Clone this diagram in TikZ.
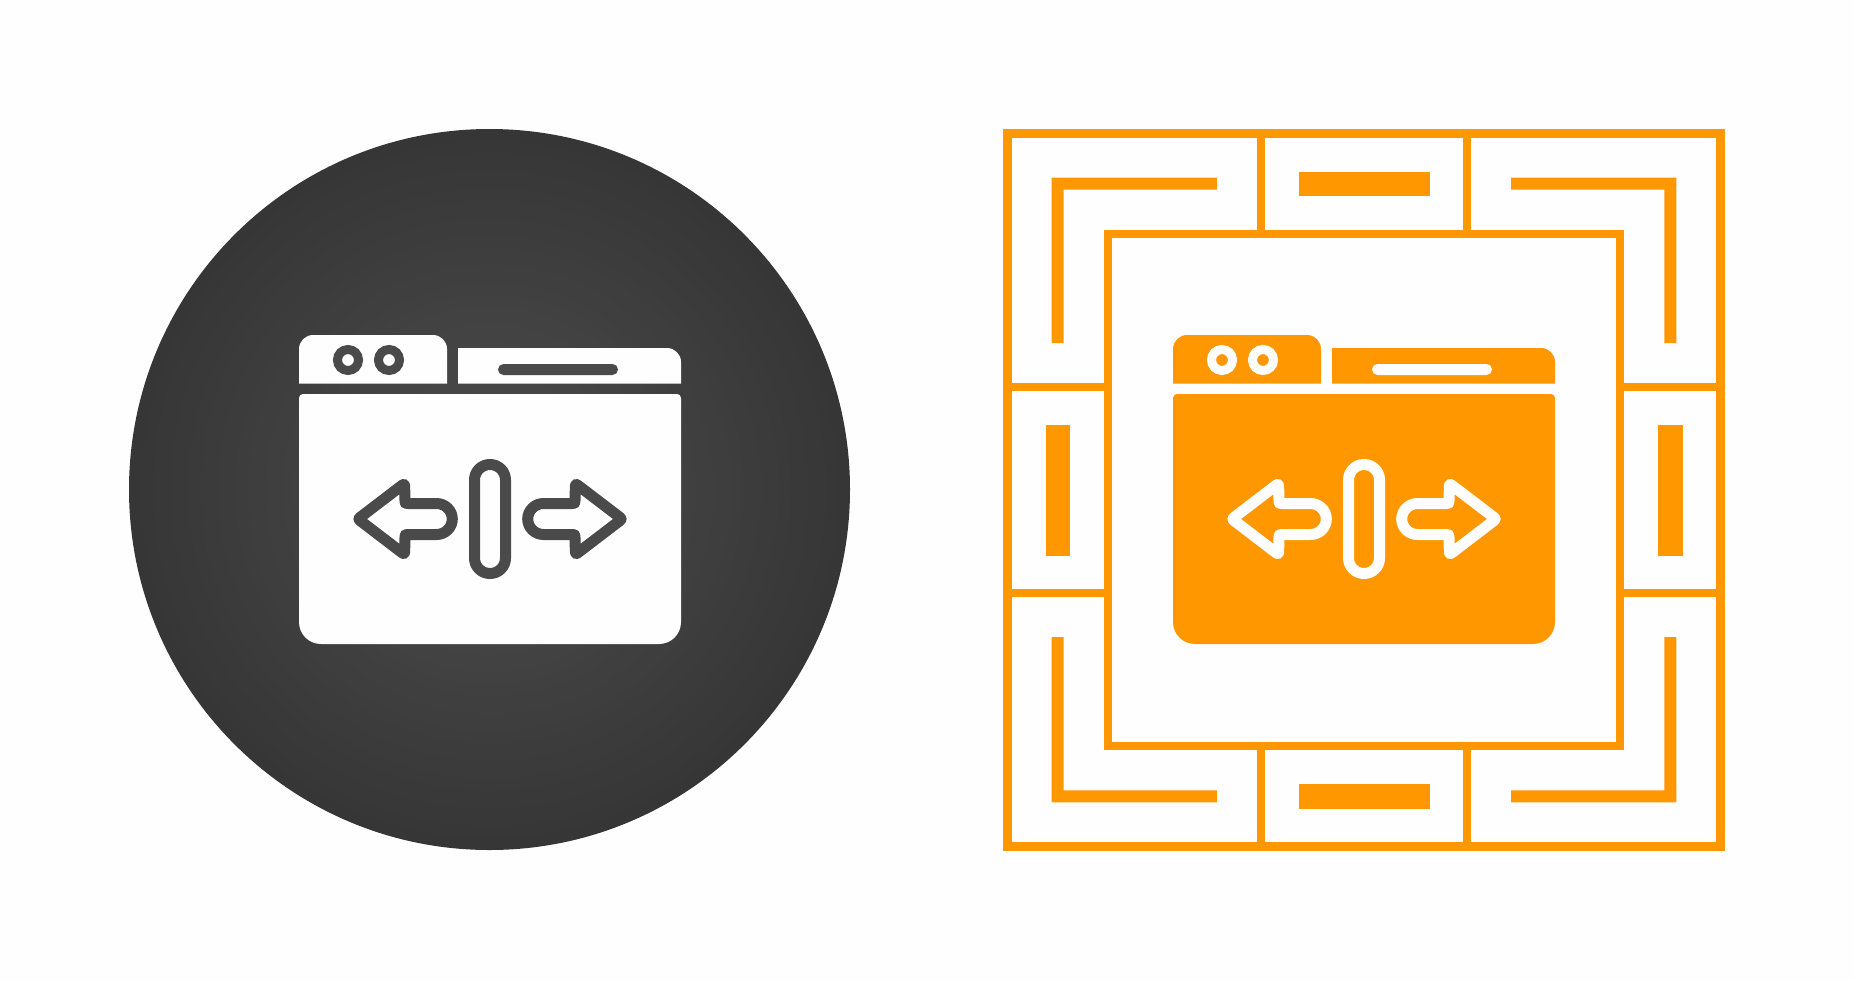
\documentclass[tikz,border=0pt]{standalone}
\definecolor{paper}{HTML}{FEFEFE}
\definecolor{discmid}{HTML}{4D4D4D}
\definecolor{discrim}{HTML}{363636}
\definecolor{ink}{HTML}{4A4A4A}
\definecolor{amber}{HTML}{FF9800}
\tikzset{
  framebar/.style={amber,line width=8.6pt,line join=miter},
  patch/.style={fill=amber,draw=none},
  linework/.style={line width=11pt,line join=round,line cap=round},
}
% #1 fill colour of the panels, #2 colour of the marks cut into them
\newcommand{\browsericon}[2]{%
  \fill[#1] (299,383.5) -- (299,349) .. controls (299,341.3) and (305.3,335) .. (313,335)
    -- (433,335) .. controls (440.7,335) and (447,341.3) .. (447,349) -- (447,383.5) -- cycle;
  \fill[#1] (458,383.5) -- (458,348) -- (667,348)
    .. controls (674.7,348) and (681,354.3) .. (681,362) -- (681,383.5) -- cycle;
  \fill[#1] (299,398) .. controls (299,395.8) and (300.8,394) .. (303,394) -- (677,394)
    .. controls (679.2,394) and (681,395.8) .. (681,398) -- (681,622)
    .. controls (681,634.2) and (671.2,644) .. (659,644) -- (321,644)
    .. controls (308.8,644) and (299,634.2) .. (299,622) -- cycle;
  \draw[#2,line width=9pt] (348,360) circle[radius=10.5pt];
  \draw[#2,line width=9pt] (389,360) circle[radius=10.5pt];
  \fill[#2,rounded corners=5.5pt] (498,364) rectangle (618,375);
  \draw[#2,line width=11pt,rounded corners=15.4pt] (474.5,464.5) rectangle (505.5,573.5);
  \foreach \mirror/\move in {1/0,-1/980}{
    \begin{scope}[xshift=\move pt,xscale=\mirror]
      \draw[#2,linework] (361.5,516.3) -- (400.5,486.5)
        .. controls (404.5,483.4) .. (404.7,488.5)
        -- (405,500.5) .. controls (405,503.5) .. (408,503.5) -- (436.5,503.5)
        .. controls (445.2,503.5) and (452.3,510.5) .. (452.3,519)
        .. controls (452.3,527.5) and (445.2,534.5) .. (436.5,534.5)
        -- (408,534.5) .. controls (405,534.5) .. (405,537.5) -- (404.7,549.5)
        .. controls (404.5,554.6) .. (400.5,551.5) -- (361.5,521.7)
        .. controls (358,519) .. (361.5,516.3) -- cycle;
    \end{scope}
  }
}
\begin{document}
\begin{tikzpicture}[x=1pt,y=-1pt]
  \fill[paper] (0,0) rectangle (1854,980);
  \useasboundingbox (0,0) rectangle (1854,980);
  % dark disc: concentric steps from the rim to the centre
  \foreach \k in {0,...,60}{
    \pgfmathsetmacro{\rad}{360.5*(1-\k/61)}
    \pgfmathsetmacro{\mixval}{100*\k/60}
    \fill[discmid!\mixval!discrim] (489.5,489.5) circle[radius=\rad pt];
  }
  \browsericon{paper}{ink}
  % amber frame
  \draw[framebar] (1007.5,133.5) rectangle (1720.5,846.5);
  \draw[framebar] (1108,234) rectangle (1620,746);
  \foreach \s in {0,206}{
    \draw[framebar,line cap=butt] (1261+\s,133.5) -- (1261+\s,234);
    \draw[framebar,line cap=butt] (1261+\s,746) -- (1261+\s,846.5);
    \draw[framebar,line cap=butt] (1007.5,387+\s) -- (1108,387+\s);
    \draw[framebar,line cap=butt] (1620,387+\s) -- (1720.5,387+\s);
  }
  % corner brackets
  \foreach \sx/\sy in {1/1,-1/1,1/-1,-1/-1}{
    \begin{scope}[shift={(1364pt,-490pt)},xscale=\sx,yscale=\sy]
      \fill[amber] (-312.3,-312.3) -- (-147,-312.3) -- (-147,-300.3) -- (-300.3,-300.3) -- (-300.3,-147) -- (-312.3,-147) -- cycle;
    \end{scope}
  }
  % side bars
  \fill[patch] (1298.5,171.5) rectangle (1429.5,196);
  \fill[patch] (1298.5,784) rectangle (1429.5,808.5);
  \fill[patch] (1045.5,424.5) rectangle (1070,555.5);
  \fill[patch] (1658,424.5) rectangle (1682.5,555.5);
  % amber icon
  \begin{scope}[xshift=874pt]
    \browsericon{amber}{paper}
  \end{scope}
\end{tikzpicture}
\end{document}
